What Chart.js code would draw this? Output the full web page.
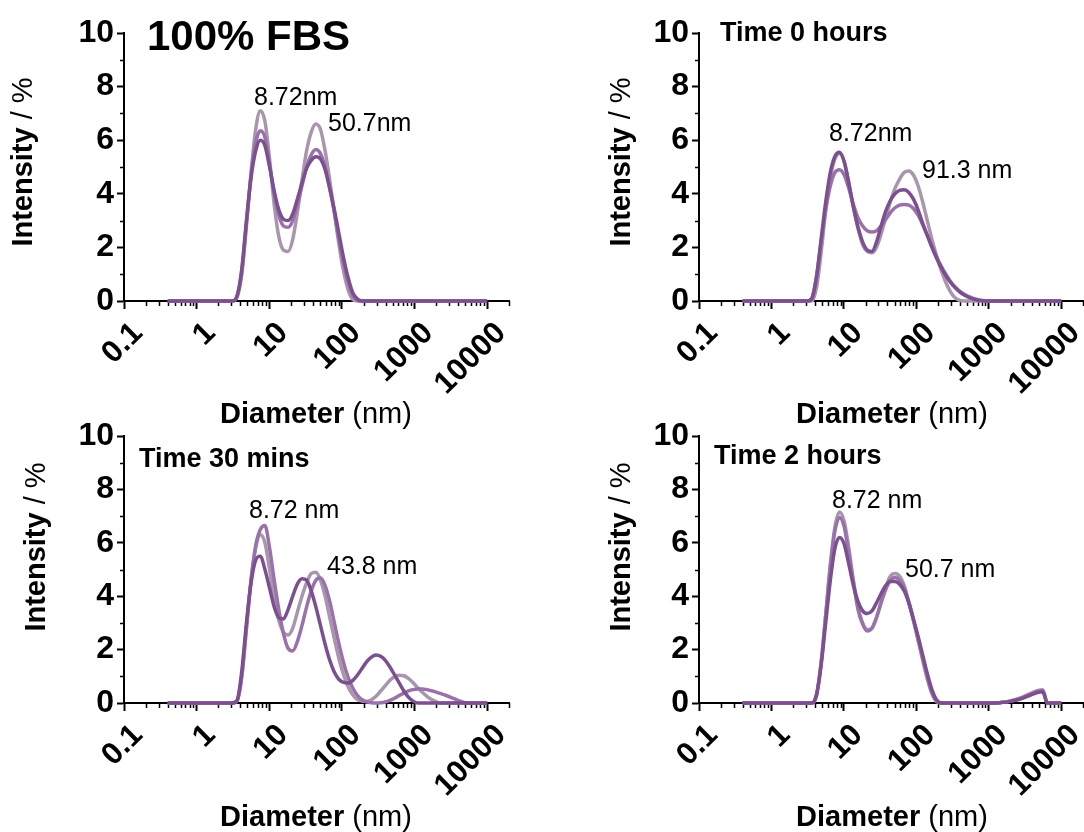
<!DOCTYPE html>
<html>
<head>
<meta charset="utf-8">
<script src="https://cdn.jsdelivr.net/npm/chart.js@4.4.1/dist/chart.umd.min.js"></script>
<style>
  html, body { margin: 0; padding: 0; background: #fff; }
  #wrap { position: relative; width: 1084px; height: 832px; overflow: hidden; }
  #wrap canvas { position: absolute; }
</style>
</head>
<body>
<div id="wrap">
  <canvas id="c1" width="542" height="432" style="left:0;top:0"></canvas>
  <canvas id="c2" width="542" height="432" style="left:542px;top:0"></canvas>
  <canvas id="c3" width="542" height="416" style="left:0;top:416px"></canvas>
  <canvas id="c4" width="542" height="416" style="left:542px;top:416px"></canvas>
</div>
<script>
// size classes of the DLS instrument (nm)
const sizes = [
  0.4, 0.4632, 0.5365, 0.6213, 0.7195, 0.8332, 0.9649, 1.117, 1.294, 1.499,
  1.736, 2.01, 2.328, 2.696, 3.122, 3.615, 4.187, 4.849, 5.615, 6.503,
  7.531, 8.721, 10.1, 11.7, 13.54, 15.69, 18.17, 21.04, 24.36, 28.21,
  32.67, 37.84, 43.82, 50.75, 58.77, 68.06, 78.82, 91.28, 105.7, 122.4,
  141.8, 164.2, 190.1, 220.2, 255.0, 295.3, 342.0, 396.1, 458.7, 531.2,
  615.1, 712.4, 825.0, 955.4, 1106, 1281, 1484, 1718, 1990, 2305,
  2669, 3091, 3580, 4145, 4801, 5560, 6439, 7456, 8635, 10000
];
const xTickValues = [0.1, 1, 10, 100, 1000, 10000];
const yTickValues = [0, 2, 4, 6, 8, 10];

// 100% FBS
const fbsLight = [
  0, 0, 0, 0, 0, 0, 0, 0, 0, 0,
  0, 0, 0, 0, 0, 0.15, 1.0, 2.8, 4.8, 6.4,
  7.1, 6.7, 5.3, 3.6, 2.4, 1.9, 1.85, 2.3, 3.3, 4.5,
  5.6, 6.3, 6.6, 6.4, 5.6, 4.5, 3.3, 2.1, 1.1, 0.4,
  0.05, 0, 0, 0, 0, 0, 0, 0, 0, 0,
  0, 0, 0, 0, 0, 0, 0, 0, 0, 0,
  0, 0, 0, 0, 0, 0, 0, 0, 0, 0
];
const fbsMid = [
  0, 0, 0, 0, 0, 0, 0, 0, 0, 0,
  0, 0, 0, 0, 0, 0.2, 1.1, 2.9, 4.7, 5.9,
  6.35, 6.1, 5.1, 4.0, 3.2, 2.8, 2.75, 3.0, 3.6, 4.3,
  5.0, 5.45, 5.65, 5.5, 5.0, 4.2, 3.3, 2.3, 1.4, 0.7,
  0.2, 0.03, 0, 0, 0, 0, 0, 0, 0, 0,
  0, 0, 0, 0, 0, 0, 0, 0, 0, 0,
  0, 0, 0, 0, 0, 0, 0, 0, 0, 0
];
const fbsDark = [
  0, 0, 0, 0, 0, 0, 0, 0, 0, 0,
  0, 0, 0, 0, 0, 0.2, 1.2, 3.0, 4.6, 5.6,
  6.0, 5.8, 5.0, 4.1, 3.4, 3.05, 3.0, 3.25, 3.8, 4.4,
  4.95, 5.25, 5.38, 5.3, 4.9, 4.2, 3.4, 2.5, 1.6, 0.85,
  0.3, 0.07, 0, 0, 0, 0, 0, 0, 0, 0,
  0, 0, 0, 0, 0, 0, 0, 0, 0, 0,
  0, 0, 0, 0, 0, 0, 0, 0, 0, 0
];

// Time 0 hours
const t0Light = [
  0, 0, 0, 0, 0, 0, 0, 0, 0, 0,
  0, 0, 0, 0, 0, 0, 0.5, 1.8, 3.4, 4.6,
  5.3, 5.5, 5.2, 4.4, 3.5, 2.7, 2.1, 1.85, 1.8, 2.0,
  2.5, 3.1, 3.7, 4.2, 4.55, 4.8, 4.85, 4.7, 4.3, 3.7,
  3.0, 2.3, 1.7, 1.15, 0.7, 0.35, 0.12, 0.02, 0, 0,
  0, 0, 0, 0, 0, 0, 0, 0, 0, 0,
  0, 0, 0, 0, 0, 0, 0, 0, 0, 0
];
const t0Mid = [
  0, 0, 0, 0, 0, 0, 0, 0, 0, 0,
  0, 0, 0, 0, 0, 0.1, 0.9, 2.2, 3.4, 4.3,
  4.8, 4.9, 4.7, 4.2, 3.6, 3.1, 2.8, 2.62, 2.57, 2.62,
  2.8, 3.05, 3.3, 3.48, 3.58, 3.6, 3.58, 3.45, 3.2, 2.85,
  2.45, 2.05, 1.65, 1.3, 1.0, 0.74, 0.53, 0.37, 0.25, 0.16,
  0.1, 0.05, 0.02, 0.01, 0, 0, 0, 0, 0, 0,
  0, 0, 0, 0, 0, 0, 0, 0, 0, 0
];
const t0Dark = [
  0, 0, 0, 0, 0, 0, 0, 0, 0, 0,
  0, 0, 0, 0, 0, 0.1, 0.9, 2.3, 3.7, 4.8,
  5.4, 5.55, 5.2, 4.4, 3.5, 2.75, 2.2, 1.9, 1.85, 2.2,
  2.8, 3.35, 3.75, 4.0, 4.13, 4.15, 4.05, 3.8, 3.4, 2.9,
  2.45, 2.0, 1.6, 1.25, 0.95, 0.7, 0.5, 0.34, 0.22, 0.13,
  0.07, 0.03, 0.01, 0, 0, 0, 0, 0, 0, 0,
  0, 0, 0, 0, 0, 0, 0, 0, 0, 0
];

// Time 30 mins
const t30Light = [
  0, 0, 0, 0, 0, 0, 0, 0, 0, 0,
  0, 0, 0, 0, 0, 0.1, 1.0, 2.8, 4.6, 5.8,
  6.3, 6.0, 5.0, 3.9, 3.1, 2.65, 2.55, 2.8, 3.4, 4.0,
  4.5, 4.85, 4.9, 4.6, 4.0, 3.2, 2.4, 1.65, 1.05, 0.6,
  0.3, 0.13, 0.07, 0.06, 0.12, 0.25, 0.45, 0.65, 0.85, 0.98,
  1.04, 1.02, 0.92, 0.76, 0.57, 0.4, 0.25, 0.13, 0.05, 0,
  0, 0, 0, 0, 0, 0, 0, 0, 0, 0
];
const t30Mid = [
  0, 0, 0, 0, 0, 0, 0, 0, 0, 0,
  0, 0, 0, 0, 0, 0.1, 1.0, 2.8, 4.6, 5.9,
  6.5, 6.65, 5.8, 4.6, 3.5, 2.6, 2.05, 1.95, 2.3, 2.9,
  3.6, 4.2, 4.6, 4.68, 4.4, 3.8, 3.0, 2.2, 1.5, 0.95,
  0.55, 0.28, 0.12, 0.04, 0.01, 0, 0.01, 0.04, 0.1, 0.18,
  0.28, 0.37, 0.45, 0.5, 0.52, 0.52, 0.5, 0.46, 0.41, 0.35,
  0.29, 0.22, 0.15, 0.08, 0.02, 0, 0, 0, 0, 0
];
const t30Dark = [
  0, 0, 0, 0, 0, 0, 0, 0, 0, 0,
  0, 0, 0, 0, 0, 0.1, 1.2, 3.0, 4.5, 5.35,
  5.5, 5.0, 4.3, 3.6, 3.2, 3.15, 3.5, 4.0, 4.45, 4.65,
  4.6, 4.2, 3.6, 2.9, 2.2, 1.6, 1.15, 0.88, 0.77, 0.75,
  0.85, 1.05, 1.3, 1.55, 1.72, 1.8, 1.75, 1.6, 1.35, 1.05,
  0.75, 0.45, 0.22, 0.07, 0, 0, 0, 0, 0, 0,
  0, 0, 0, 0, 0, 0, 0, 0, 0, 0
];

// Time 2 hours
const t2Light = [
  0, 0, 0, 0, 0, 0, 0, 0, 0, 0,
  0, 0, 0, 0, 0, 0, 0.3, 1.5, 3.3, 5.2,
  6.6, 7.15, 6.8, 5.8, 4.6, 3.6, 3.0, 2.75, 2.8, 3.2,
  3.8, 4.35, 4.75, 4.85, 4.75, 4.4, 3.8, 3.1, 2.35, 1.6,
  0.9, 0.35, 0.05, 0, 0, 0, 0, 0, 0, 0,
  0, 0, 0, 0, 0, 0, 0.02, 0.04, 0.08, 0.12,
  0.18, 0.25, 0.33, 0.41, 0.47, 0.5, 0, 0, 0, 0
];
const t2Mid = [
  0, 0, 0, 0, 0, 0, 0, 0, 0, 0,
  0, 0, 0, 0, 0, 0, 0.3, 1.5, 3.3, 5.1,
  6.45, 6.95, 6.6, 5.6, 4.5, 3.5, 2.95, 2.7, 2.8, 3.2,
  3.75, 4.25, 4.6, 4.7, 4.6, 4.3, 3.75, 3.1, 2.4, 1.7,
  1.0, 0.4, 0.08, 0, 0, 0, 0, 0, 0, 0,
  0, 0, 0, 0, 0, 0, 0.02, 0.04, 0.07, 0.11,
  0.16, 0.23, 0.31, 0.38, 0.44, 0.47, 0, 0, 0, 0
];
const t2Dark = [
  0, 0, 0, 0, 0, 0, 0, 0, 0, 0,
  0, 0, 0, 0, 0, 0, 0.3, 1.4, 3.0, 4.6,
  5.8, 6.2, 5.95, 5.2, 4.4, 3.8, 3.45, 3.35, 3.45, 3.75,
  4.1, 4.4, 4.55, 4.55, 4.45, 4.2, 3.75, 3.15, 2.5, 1.8,
  1.1, 0.5, 0.12, 0, 0, 0, 0, 0, 0, 0,
  0, 0, 0, 0, 0, 0, 0.02, 0.03, 0.06, 0.1,
  0.14, 0.2, 0.27, 0.34, 0.4, 0.42, 0, 0, 0, 0
];

const colors = { light: '#a995ad', mid: '#9a72a9', dark: '#7c4f90' };
const FONT = "'Liberation Sans', Arial, sans-serif";

const panels = [
  {
    id: 'c1', w: 542, h: 432, area: { left: 124, top: 33, right: 509, bottom: 301 },
    series: [fbsDark, fbsMid, fbsLight],
    title: { text: '100% FBS', x: 147, y: 50, size: 42 },
    notes: [{ text: '8.72nm', x: 254, y: 105 }, { text: '50.7nm', x: 328, y: 131 }],
    xTitle: { x: 316, y: 423 }, yTitle: { x: 24, y: 162 }
  },
  {
    id: 'c2', w: 542, h: 432, area: { left: 157, top: 33, right: 541, bottom: 301 },
    series: [t0Dark, t0Mid, t0Light],
    title: { text: 'Time 0 hours', x: 178, y: 41, size: 27 },
    notes: [{ text: '8.72nm', x: 287, y: 141 }, { text: '91.3 nm', x: 380, y: 178 }],
    xTitle: { x: 350, y: 423 }, yTitle: { x: 80, y: 162 }
  },
  {
    id: 'c3', w: 542, h: 416, area: { left: 124, top: 20, right: 509, bottom: 287 },
    series: [t30Dark, t30Mid, t30Light],
    title: { text: 'Time 30 mins', x: 139, y: 51, size: 27 },
    notes: [{ text: '8.72 nm', x: 249, y: 102 }, { text: '43.8 nm', x: 327, y: 158 }],
    xTitle: { x: 316, y: 410 }, yTitle: { x: 37, y: 131 }
  },
  {
    id: 'c4', w: 542, h: 416, area: { left: 157, top: 20, right: 541, bottom: 287 },
    series: [t2Dark, t2Mid, t2Light],
    title: { text: 'Time 2 hours', x: 172, y: 48, size: 27 },
    notes: [{ text: '8.72 nm', x: 290, y: 92 }, { text: '50.7 nm', x: 363, y: 161 }],
    xTitle: { x: 350, y: 410 }, yTitle: { x: 80, y: 131 }
  }
];

// small ticks between the labelled ones
const minorTicks = {
  id: 'minorTicks',
  beforeDatasetsDraw(chart) {
    const { ctx, chartArea, scales } = chart;
    ctx.save();
    ctx.strokeStyle = '#000';
    ctx.lineWidth = 1.5;
    ctx.beginPath();
    for (let n = -1; n <= 4; n++) {
      for (let k = 2; k <= 9; k++) {
        const v = k * Math.pow(10, n);
        if (v > scales.x.max) continue;
        const px = Math.round(scales.x.getPixelForValue(v)) + 0.5;
        ctx.moveTo(px, chartArea.bottom);
        ctx.lineTo(px, chartArea.bottom + 5);
      }
    }
    for (let v = 1; v < 10; v += 2) {
      const py = Math.round(scales.y.getPixelForValue(v)) + 0.5;
      ctx.moveTo(chartArea.left - 4, py);
      ctx.lineTo(chartArea.left, py);
    }
    ctx.stroke();
    ctx.restore();
  }
};

// mixed bold / normal text pieces
function drawPieces(ctx, pieces, size, x, y, align) {
  let total = 0;
  pieces.forEach(p => {
    ctx.font = (p.bold ? 'bold ' : '') + size + 'px ' + FONT;
    p.w = ctx.measureText(p.text).width;
    total += p.w;
  });
  let cx = align === 'center' ? x - total / 2 : x;
  pieces.forEach(p => {
    ctx.font = (p.bold ? 'bold ' : '') + size + 'px ' + FONT;
    ctx.fillText(p.text, cx, y);
    cx += p.w;
  });
}

const panelText = {
  id: 'panelText',
  afterDraw(chart, args, opts) {
    const ctx = chart.ctx;
    ctx.save();
    ctx.fillStyle = '#000';
    ctx.textAlign = 'left';
    ctx.textBaseline = 'alphabetic';
    const t = opts.title;
    ctx.font = 'bold ' + t.size + 'px ' + FONT;
    ctx.fillText(t.text, t.x, t.y);
    ctx.font = '25px ' + FONT;
    opts.notes.forEach(n => ctx.fillText(n.text, n.x, n.y));
    drawPieces(ctx, [{ text: 'Diameter', bold: true }, { text: ' (nm)', bold: false }], 29, opts.xTitle.x, opts.xTitle.y, 'center');
    ctx.translate(opts.yTitle.x, opts.yTitle.y);
    ctx.rotate(-Math.PI / 2);
    ctx.textBaseline = 'middle';
    drawPieces(ctx, [{ text: 'Intensity', bold: true }, { text: ' / %', bold: false }], 29, 0, 0, 'center');
    ctx.restore();
  }
};

panels.forEach(p => {
  const shades = [colors.dark, colors.mid, colors.light];
  const datasets = p.series.map((vals, i) => ({
    data: sizes.map((s, j) => ({ x: s, y: vals[j] })),
    borderColor: shades[i],
    borderWidth: 3.5,
    pointRadius: 0,
    fill: false,
    clip: false,
    cubicInterpolationMode: 'monotone'
  }));

  new Chart(document.getElementById(p.id), {
    type: 'line',
    data: { datasets },
    plugins: [minorTicks, panelText],
    options: {
      responsive: false,
      animation: false,
      devicePixelRatio: 1,
      layout: { padding: { left: 0, top: p.area.top, right: p.w - p.area.right, bottom: 0 } },
      plugins: {
        legend: { display: false },
        tooltip: { enabled: false },
        panelText: { title: p.title, notes: p.notes, xTitle: p.xTitle, yTitle: p.yTitle }
      },
      scales: {
        x: {
          type: 'logarithmic',
          min: 0.1,
          max: 20000,
          afterBuildTicks: s => { s.ticks = xTickValues.map(v => ({ value: v })); },
          afterFit: s => { s.height = p.h - p.area.bottom; s.paddingLeft = 0; s.paddingRight = 0; },
          grid: { display: true, drawOnChartArea: false, drawTicks: true, tickLength: 8, tickWidth: 2, tickColor: '#000', z: -1 },
          border: { display: true, color: '#000', width: 2 },
          ticks: {
            autoSkip: false, minRotation: 45, maxRotation: 45, padding: 6, labelOffset: 14,
            color: '#000', font: { family: FONT, size: 31, weight: 'bold' },
            callback: v => String(v)
          }
        },
        y: {
          min: 0,
          max: 10,
          afterBuildTicks: s => { s.ticks = yTickValues.map(v => ({ value: v })); },
          afterFit: s => { s.width = p.area.left; s.paddingTop = 0; s.paddingBottom = 0; },
          grid: { display: true, drawOnChartArea: false, drawTicks: true, tickLength: 7, tickWidth: 2, tickColor: '#000', z: -1 },
          border: { display: true, color: '#000', width: 2 },
          ticks: { padding: 3, color: '#000', font: { family: FONT, size: 32, weight: 'bold' } }
        }
      }
    }
  });
});
</script>
</body>
</html>
